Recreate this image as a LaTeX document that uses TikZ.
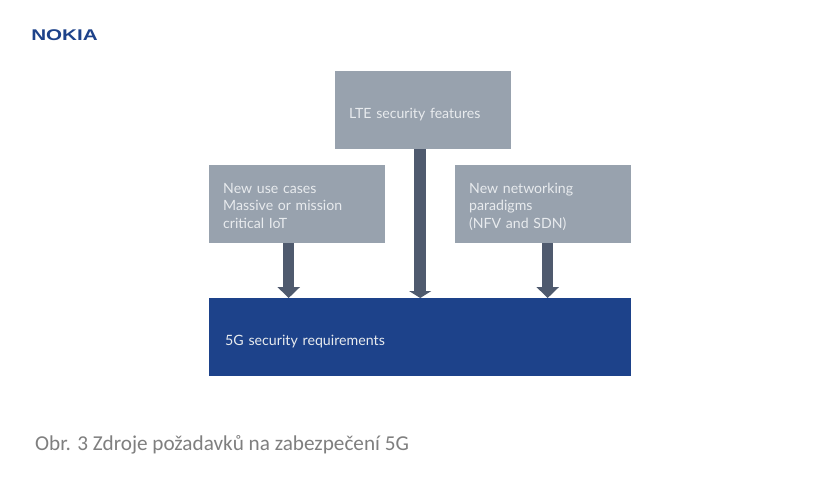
\documentclass[tikz,border=0pt]{standalone}
\usepackage{fontspec}
\setmainfont{Lato}
\newfontfamily\capfont{Carlito}
\newfontfamily\logofont{Liberation Sans}
\usetikzlibrary{arrows.meta}
\definecolor{boxgray}{HTML}{98A2AE}
\definecolor{arrowslate}{HTML}{4F5A6E}
\definecolor{nokiablue}{HTML}{1D428A}
\definecolor{boxtext}{HTML}{E8EBEE}
\definecolor{captext}{HTML}{7F7F7F}
\newcommand{\firststrut}{\rule{0pt}{17pt}}
\newcommand{\laststrut}{\rule[-4pt]{0pt}{4pt}}
\newcommand{\onestrut}{\rule[-4pt]{0pt}{24pt}}
\tikzset{
  x=1pt,y=-1pt,
  infobox/.style={fill=boxgray,text=boxtext,anchor=north west,inner xsep=14pt,inner ysep=0pt,
    text width=148pt,minimum height=78pt,align=left,font=\fontsize{14.1}{17.5}\selectfont},
  reqbox/.style={fill=nokiablue,text=boxtext,anchor=north west,inner xsep=16pt,inner ysep=0pt,
    text width=390pt,minimum height=78pt,align=left,font=\fontsize{14.2}{17.5}\selectfont},
  feedarrow/.style={draw=arrowslate,line width=11.5pt,-{Triangle[width=22pt,length=#1,fill=arrowslate]}},
  feedarrow/.default=11pt
}
\begin{document}
\begin{tikzpicture}
\useasboundingbox[fill=white] (0,0) rectangle (840,480);
\node[anchor=center,text=nokiablue,xscale=1.33,font=\logofont\bfseries\fontsize{15.5}{16}\selectfont,inner sep=0pt] (logo) at (64.5,35.5) {NOKIA};
\node[infobox] (lte) at (335,71) {\onestrut LTE security features};
\node[infobox] (cases) at (209,165) {\firststrut New use cases\\Massive or mission\\critical IoT\laststrut};
\node[infobox] (net) at (455,165) {\firststrut New networking\\paradigms\\(NFV and SDN)\laststrut};
\node[reqbox] (req) at (209,298) {\onestrut 5G security requirements};
\draw[feedarrow] ([xshift=-8.5pt]cases.south) -- ([xshift=-8.5pt]cases.south |- req.north);
\draw[feedarrow=7pt] ([xshift=-3pt]lte.south) -- ([xshift=-3pt]lte.south |- req.north);
\draw[feedarrow] ([xshift=4.5pt]net.south) -- ([xshift=4.5pt]net.south |- req.north);
\node[anchor=base west,inner sep=0pt,text=captext,font=\capfont\fontsize{21.2}{24}\selectfont] (cap) at (35,450) {Obr. 3 Zdroje požadavků na zabezpečení 5G};
\end{tikzpicture}
\end{document}
